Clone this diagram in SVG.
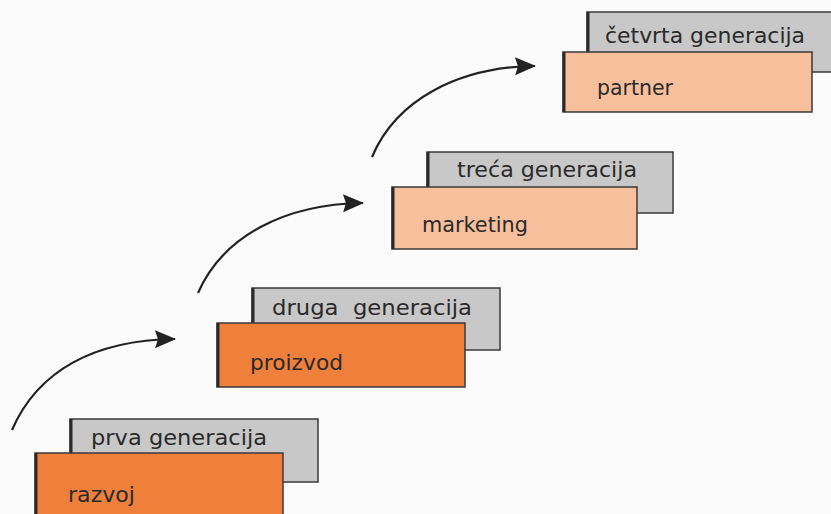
<svg xmlns="http://www.w3.org/2000/svg" width="831" height="514" viewBox="0 0 831 514">
<style>
.bg{fill:#fbfbfb}
.gray{fill:#c8c8c8;stroke:#3a3a3a;stroke-width:1.5}
.dark{fill:#ef803c;stroke:#3a3a3a;stroke-width:1.5}
.light{fill:#f8bf9d;stroke:#3a3a3a;stroke-width:1.5}
.edge{stroke:#2a2a2a;stroke-width:3}
.t{font-family:"DejaVu Sans","Liberation Sans",sans-serif;font-size:22px;fill:#2a2a2a;white-space:pre}
.arc{fill:none;stroke:#222;stroke-width:2.2}
</style>
<defs>
<marker id="ah" markerUnits="userSpaceOnUse" markerWidth="22" markerHeight="20" refX="20" refY="10" orient="auto">
<path d="M0,1 L21,10 L0,19 L3,10 Z" fill="#222"/>
</marker>
</defs>
<rect class="bg" x="0" y="0" width="831" height="514"/>
<g id="connectors">
<path class="arc" d="M12,430 C38,370 95,340 175,339" marker-end="url(#ah)"/>
<path class="arc" d="M198,293 C223,236 285,204 363,203" marker-end="url(#ah)"/>
<path class="arc" d="M372,157 C396,100 458,67 535,66" marker-end="url(#ah)"/>
</g>
<g id="gen1">
<rect class="gray" x="70" y="419" width="248" height="63"/>
<line class="edge" x1="71" y1="419" x2="71" y2="454"/>
<text class="t" x="91" y="445" textLength="176" lengthAdjust="spacingAndGlyphs">prva generacija</text>
<rect class="dark" x="35" y="453" width="248" height="70"/>
<line class="edge" x1="36" y1="453" x2="36" y2="514"/>
<text class="t" x="68" y="502" textLength="67" lengthAdjust="spacingAndGlyphs">razvoj</text>
</g>
<g id="gen2">
<rect class="gray" x="252" y="288" width="248" height="62"/>
<line class="edge" x1="253" y1="288" x2="253" y2="323"/>
<text class="t" x="272" y="315" textLength="200" lengthAdjust="spacingAndGlyphs">druga  generacija</text>
<rect class="dark" x="217" y="323" width="248" height="64"/>
<line class="edge" x1="218" y1="323" x2="218" y2="387"/>
<text class="t" x="250" y="370" textLength="93" lengthAdjust="spacingAndGlyphs">proizvod</text>
</g>
<g id="gen3">
<rect class="gray" x="427" y="152" width="246" height="61"/>
<line class="edge" x1="428" y1="152" x2="428" y2="187"/>
<text class="t" x="457" y="177" textLength="180" lengthAdjust="spacingAndGlyphs">treća generacija</text>
<rect class="light" x="392" y="187" width="245" height="62"/>
<line class="edge" x1="393" y1="187" x2="393" y2="249"/>
<text class="t" x="422" y="232" textLength="106" lengthAdjust="spacingAndGlyphs">marketing</text>
</g>
<g id="gen4">
<rect class="gray" x="587" y="12" width="260" height="60"/>
<line class="edge" x1="588" y1="12" x2="588" y2="52"/>
<text class="t" x="605" y="43" textLength="200" lengthAdjust="spacingAndGlyphs">četvrta generacija</text>
<rect class="light" x="563" y="52" width="249" height="60"/>
<line class="edge" x1="564" y1="52" x2="564" y2="112"/>
<text class="t" x="597" y="95" textLength="76" lengthAdjust="spacingAndGlyphs">partner</text>
</g>
</svg>
